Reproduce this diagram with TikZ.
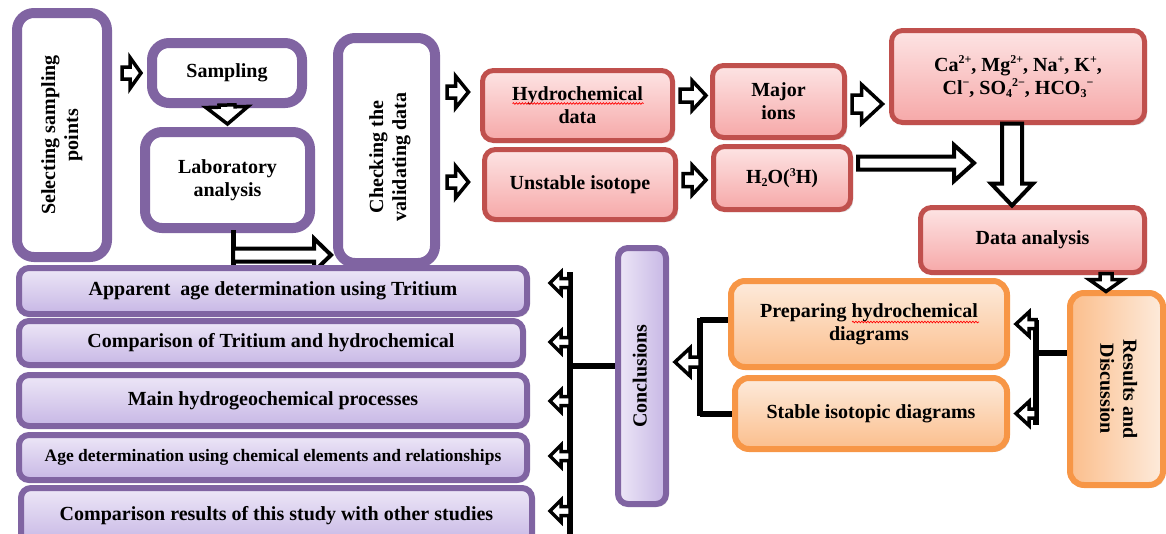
\documentclass[tikz,border=0pt]{standalone}
\usepackage{fontspec}
\usepackage{graphicx}
\setmainfont{Liberation Serif}
\usetikzlibrary{calc,shadows,decorations.pathmorphing}
\definecolor{purp}{RGB}{128,100,162}
\definecolor{redb}{RGB}{192,80,77}
\definecolor{orab}{RGB}{247,150,70}
\definecolor{pinkT}{RGB}{253,228,228}
\definecolor{pinkB}{RGB}{246,168,168}
\definecolor{lavT}{RGB}{237,231,247}
\definecolor{lavB}{RGB}{199,183,229}
\definecolor{orT}{RGB}{253,235,220}
\definecolor{orB}{RGB}{251,190,140}
\tikzset{
  base/.style={inner sep=0pt, align=center, font=\bfseries\fontsize{20}{23}\selectfont},
  shad/.style={drop shadow={shadow xshift=2.5pt, shadow yshift=-2.5pt, opacity=0.3}},
  pbox/.style={base, draw=purp, line width=10pt, fill=white, rounded corners=17pt},
  rbox/.style={base, shad, draw=redb, line width=5pt, top color=pinkT, bottom color=pinkB, rounded corners=11pt},
  lbox/.style={base, shad, draw=purp, line width=6pt, top color=lavT, bottom color=lavB, rounded corners=10pt},
  obox/.style={base, shad, draw=orab, line width=6pt, top color=orT, bottom color=orB, rounded corners=14pt},
  blockarrow/.style={draw=black, fill=white, line width=3.5pt, line join=miter, miter limit=10},
  bline/.style={draw=black, line width=6pt},
  squig/.style={draw=red, line width=0.7pt, decorate, decoration={snake, amplitude=0.8pt, segment length=3pt}}
}
\newcommand\rtext[2]{\rotatebox{#1}{\begin{tabular}{@{}c@{}}#2\end{tabular}}}
\newcommand\myup[1]{\raisebox{7.5pt}{\fontsize{12}{12}\selectfont #1}}
\newcommand\mydn[1]{\raisebox{-3pt}{\fontsize{12}{12}\selectfont #1}}
\newcommand\barrow[6][]{%
  \coordinate (ba) at (#2);
  \coordinate (bb) at (#3);
  \coordinate (bc) at ($(bb)!#6!(ba)$);
  \draw[blockarrow,#1] ($(ba)!#4!90:(bb)$) -- ($(bc)!#4!-90:(ba)$) -- ($(bc)!#5!-90:(ba)$) -- (bb) -- ($(bc)!#5!90:(ba)$) -- ($(bc)!#4!90:(ba)$) -- ($(ba)!#4!-90:(bb)$) -- cycle;}
\begin{document}
\begin{tikzpicture}[x=1pt,y=-1pt]
\path[use as bounding box] (0,0) rectangle (1166,533);
\clip (0,0) rectangle (1166,533);

% left column
\node[pbox, minimum width=90pt, minimum height=244pt] (sel) at (62,135) {\rtext{90}{Selecting sampling\\points}};
\node[pbox, minimum width=150pt, minimum height=60pt] (samp) at (227,73) {Sampling};
\node[pbox, minimum width=165pt, minimum height=96pt] (lab) at (227.5,180) {Laboratory\\analysis};

% bent arrow lab -> check
\draw[bline, line width=5pt] ($(lab.south)+(5.5,-3)$) -- ($(lab.south)+(5.5,36)$);
\barrow[line width=4pt]{$(lab.south)+(5.5,22)$}{$(lab.south)+(103.5,22)$}{6.5pt}{16.5pt}{17pt}

\node[pbox, minimum width=97pt, minimum height=225pt] (check) at (386.5,150.5) {};
\node[base] (checkt) at (390,157) {\rtext{90}{Checking the\\validating data}};

% red boxes
\node[rbox, minimum width=190pt, minimum height=70pt] (hydro) at (577.5,105.5) {Hydrochemical\\data};
\node[rbox, minimum width=191pt, minimum height=70pt] (unst) at (580,184.5) {Unstable isotope};
\node[rbox, minimum width=132pt, minimum height=72pt] (major) at (778.5,101.5) {Major\\ions};
\node[rbox, minimum width=137pt, minimum height=63pt] (htwo) at (782,178) {H\mydn{2}O(\myup{3}H)};
\node[rbox, minimum width=253pt, minimum height=92pt] (ca) at (1018,76.5) {Ca\myup{2+}, Mg\myup{2+}, Na\myup{+}, K\myup{+},\\Cl\myup{\textminus}, SO\mydn{4}\myup{2\textminus}, HCO\mydn{3}\myup{\textminus}};
\node[rbox, minimum width=224pt, minimum height=65pt] (data) at (1032.5,240) {Data analysis};

\draw[squig] ($(hydro.center)+(-65,-2)$) -- ($(hydro.center)+(66,-2)$);

% orange boxes
\node[obox, minimum width=276pt, minimum height=86pt] (prep) at (869,324) {Preparing hydrochemical\\diagrams};
\node[obox, minimum width=272pt, minimum height=71pt] (stab) at (871,413.5) {Stable isotopic diagrams};
\node[obox, minimum width=93pt, minimum height=192pt, left color=orB, right color=orT] (res) at (1116.5,389) {\rtext{-90}{Results and\\Discussion}};
\draw[squig] ($(prep.center)+(-17,-2)$) -- ($(prep.center)+(110,-2)$);

% conclusions
\node[lbox, minimum width=48pt, minimum height=256pt, left color=lavT, right color=lavB] (conc) at (642,376) {\rtext{90}{Conclusions}};

% list boxes
\node[lbox, minimum width=508pt, minimum height=46pt] (l1) at (273,291) {Apparent\ \ age determination using Tritium};
\node[lbox, minimum width=504pt, minimum height=44pt] (l2) at (271,343) {Comparison of Tritium and hydrochemical};
\node[lbox, minimum width=508pt, minimum height=51pt] (l3) at (273,400.5) {Main hydrogeochemical processes};
\node[lbox, minimum width=508pt, minimum height=45pt, font=\bfseries\fontsize{17.5}{20}\selectfont] (l4) at (273,457.5) {Age determination using chemical elements and relationships};
\node[lbox, minimum width=511pt, minimum height=56pt] (l5) at (276.5,516) {Comparison results of this study with other studies};

% arrows top
\barrow{$(sel.east |- samp.west)+(10,0)$}{$(samp.west)+(-6,0)$}{6pt}{15.5pt}{11pt}
\barrow{$(samp.south)+(0,-3)$}{$(lab.north)+(0,-3)$}{8pt}{21pt}{17pt}
\barrow{$(check.east |- hydro.west)+(7,-13.5)$}{$(hydro.west)+(-11.5,-13.5)$}{6pt}{16pt}{13pt}
\barrow{$(check.east |- unst.west)+(7,-2.5)$}{$(unst.west)+(-13.5,-2.5)$}{6pt}{16pt}{13pt}
\barrow{$(hydro.east)+(5,-10)$}{$(major.west)+(-4,-6)$}{6.5pt}{15pt}{14pt}
\barrow{$(unst.east)+(5,-4.5)$}{$(htwo.west)+(-5,2)$}{6.5pt}{15pt}{14pt}
\barrow{$(major.east)+(5,2.5)$}{$(ca.west)+(-6.5,27.5)$}{9pt}{19.5pt}{21pt}
\coordinate (jn) at (974,163);
\barrow[line width=4pt]{$(htwo.east)+(5,-15)$}{jn}{6.5pt}{18pt}{20pt}
\barrow[line width=4pt]{$(ca.south)+(-6,-1.5)$}{$(ca.south |- data.north)+(-6,0.5)$}{10pt}{21pt}{22pt}
\barrow{$(data.south)+(73.5,-1.5)$}{$(res.north)+(-10.5,1.5)$}{6pt}{17pt}{12pt}

% right bracket
\coordinate (rb1) at (1036,320);
\coordinate (rb2) at (1036,425);
\draw[bline] (rb1) -- (rb2);
\draw[bline] (rb1 |- 0,353) -- (res.west |- 0,353);
\barrow{rb1 |- prep.east}{$(prep.east)+(6,0)$}{4.5pt}{12pt}{13pt}
\barrow{rb1 |- stab.east}{$(stab.east)+(6,0)$}{4.5pt}{12pt}{13pt}

% left bracket
\coordinate (lb1) at (700,318);
\coordinate (lb2) at (700,416);
\draw[bline] (lb1) -- (lb2);
\draw[bline] ($(lb1)+(0,2)$) -- ($(prep.west)+(0,-4)$);
\draw[bline] (lb1 |- stab.west) -- (stab.west);
\barrow{lb1 |- 0,362}{$(conc.east |- 0,362)+(6,0)$}{5pt}{14pt}{15pt}

% conclusions bus
\coordinate (cb1) at (570,272);
\coordinate (cb2) at (570,540);
\draw[bline] (cb1) -- (cb2);
\draw[bline] (cb1 |- 0,366) -- (conc.west |- 0,366);
\foreach \yy in {283,342,401,456,511}{
  \barrow{570,\yy}{550,\yy}{4.5pt}{11pt}{11pt}
}
\end{tikzpicture}
\end{document}
